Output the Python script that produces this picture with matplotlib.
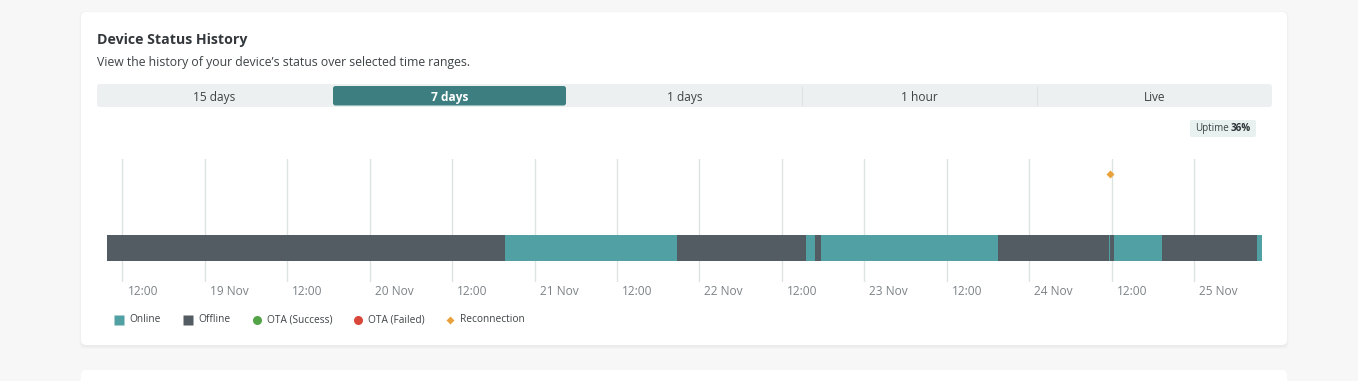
import matplotlib
matplotlib.use("Agg")
import matplotlib.pyplot as plt
import matplotlib.dates as mdates
from matplotlib.patches import FancyBboxPatch
from matplotlib.transforms import ScaledTranslation
import pandas as pd

plt.rcParams['font.family'] = ['Open Sans', 'DejaVu Sans']

# status history (7 days window)
seg_starts = ["2023-11-18 09:45", "2023-11-20 19:41", "2023-11-21 20:43",
              "2023-11-22 15:30", "2023-11-22 16:49", "2023-11-22 17:41",
              "2023-11-23 19:27", "2023-11-24 11:37", "2023-11-24 11:46",
              "2023-11-24 12:20", "2023-11-24 19:20", "2023-11-25 09:10"]
seg_states = ["Offline", "Online", "Offline", "Online", "Offline", "Online",
              "Offline", "Online", "Offline", "Online", "Offline", "Online"]
window_end = "2023-11-25 09:53"
reconnections = ["2023-11-24 11:42"]
uptime_pct = 36

tabs = ["15 days", "7 days", "1 days", "1 hour", "Live"]
selected_tab = "7 days"
legend_labels = ["Online", "Offline", "OTA (Success)", "OTA (Failed)", "Reconnection"]

ONLINE = "#51a0a4"
OFFLINE = "#545c63"
colors = {"Online": ONLINE, "Offline": OFFLINE}

W, H = 1358, 381
fig = plt.figure(figsize=(W / 100, H / 100), dpi=100)
fig.patch.set_facecolor("#f6f7f6")

# overlay in pixel coords for the card / header / tabs / legend
bg = fig.add_axes([0, 0, 1, 1])
bg.set_xlim(0, W)
bg.set_ylim(H, 0)
bg.axis("off")

for i, a in enumerate([0.018, 0.014, 0.01]):
    bg.add_patch(FancyBboxPatch((81 - i, 12 - i + 1), 1206 + 2 * i, 333 + 2 * i + 1,
                                boxstyle="round,pad=0,rounding_size=5",
                                fc="black", ec="none", alpha=a))
bg.add_patch(FancyBboxPatch((81, 12), 1206, 333, boxstyle="round,pad=0,rounding_size=5",
                            fc="white", ec="none"))
bg.add_patch(FancyBboxPatch((81, 370), 1206, 40, boxstyle="round,pad=0,rounding_size=5",
                            fc="white", ec="none"))

bg.text(97, 40, "Device Status History", fontsize=10.2, fontweight="bold",
        color="#33383c", va="center")
bg.text(97, 62.5, "View the history of your device\u2019s status over selected time ranges.",
        fontsize=8.8, color="#3d4346", va="center")

# tab bar
tab_x0, tab_x1 = 97, 1272
tab_w = (tab_x1 - tab_x0) / len(tabs)
bg.add_patch(FancyBboxPatch((tab_x0, 84), tab_x1 - tab_x0, 23,
                            boxstyle="round,pad=0,rounding_size=3", fc="#ecf0f1", ec="none"))
for i, t in enumerate(tabs):
    x0 = tab_x0 + i * tab_w
    if t == selected_tab:
        bg.add_patch(FancyBboxPatch((x0 + 1, 86), tab_w - 2, 19.5,
                                    boxstyle="round,pad=0,rounding_size=2.5",
                                    fc="#3d7f80", ec="none"))
        bg.text(x0 + tab_w / 2, 97, t, fontsize=8.6, fontweight="bold",
                color="white", ha="center", va="center")
    else:
        bg.text(x0 + tab_w / 2, 97.5, t, fontsize=8.6, color="#3d4346",
                ha="center", va="center")
    if i >= 3:
        bg.plot([x0, x0], [87, 105], color="#dde2e3", lw=0.8)

# uptime badge
bg.add_patch(FancyBboxPatch((1190, 120), 66, 17, boxstyle="round,pad=0,rounding_size=2",
                            fc="#e9f1f0", ec="none"))
bg.text(1229, 128.5, "Uptime", fontsize=7.1, color="#3d4346", ha="right", va="center")
bg.text(1231, 128.5, f"{uptime_pct}%", fontsize=7.1, fontweight="bold", color="#2d3236",
        ha="left", va="center")

# legend
leg_x = [119, 188, 257, 358, 450]
leg_style = [("s", ONLINE, 6.5), ("s", OFFLINE, 6.5), ("o", "#52a447", 6.5),
             ("o", "#d9473a", 6.5), ("D", "#e9a23b", 4.2)]
for x, lab, (m, c, s) in zip(leg_x, legend_labels, leg_style):
    bg.plot(x, 320, marker=m, color=c, ms=s, mec="none", ls="none")
    bg.text(x + 10, 319.5, lab, fontsize=7.3, color="#3d4346", va="center")

# timeline chart (pixel rows 159..282)
ax = fig.add_axes([107 / W, (H - 282) / H, 1155 / W, 123 / H])
ax.patch.set_alpha(0)
starts = mdates.date2num(pd.to_datetime(seg_starts))
ends = list(starts[1:]) + [mdates.date2num(pd.Timestamp(window_end))]
for s, e, st in zip(starts, ends, seg_states):
    ax.barh(34, e - s, left=s, height=26, color=colors[st], align="center", lw=0)

rx = mdates.date2num(pd.to_datetime(reconnections))
ax.plot(rx, [108] * len(rx), marker="D", ls="none", color="#e9a23b", ms=4.2, mec="none")

ax.set_xlim(starts[0], ends[-1])
ax.set_ylim(0, 123)
ax.set_yticks([])
for sp in ax.spines.values():
    sp.set_visible(False)

ticks = pd.date_range("2023-11-18 12:00", "2023-11-25 00:00", freq="12h")
ax.set_xticks(mdates.date2num(ticks))
ax.set_xticklabels([t.strftime("%H:%M") if t.hour else f"{t.day} Nov" for t in ticks])
ax.grid(axis="x", color="#dce3e3", lw=1)
ax.set_axisbelow(True)
ax.tick_params(axis="x", length=0, pad=2, labelsize=8.6, labelcolor="#7b8286")
off = ScaledTranslation(5 / 100, 0, fig.dpi_scale_trans)
for lab in ax.get_xticklabels():
    lab.set_horizontalalignment("left")
    lab.set_transform(lab.get_transform() + off)

fig.savefig("out.png", dpi=100, facecolor=fig.get_facecolor())
